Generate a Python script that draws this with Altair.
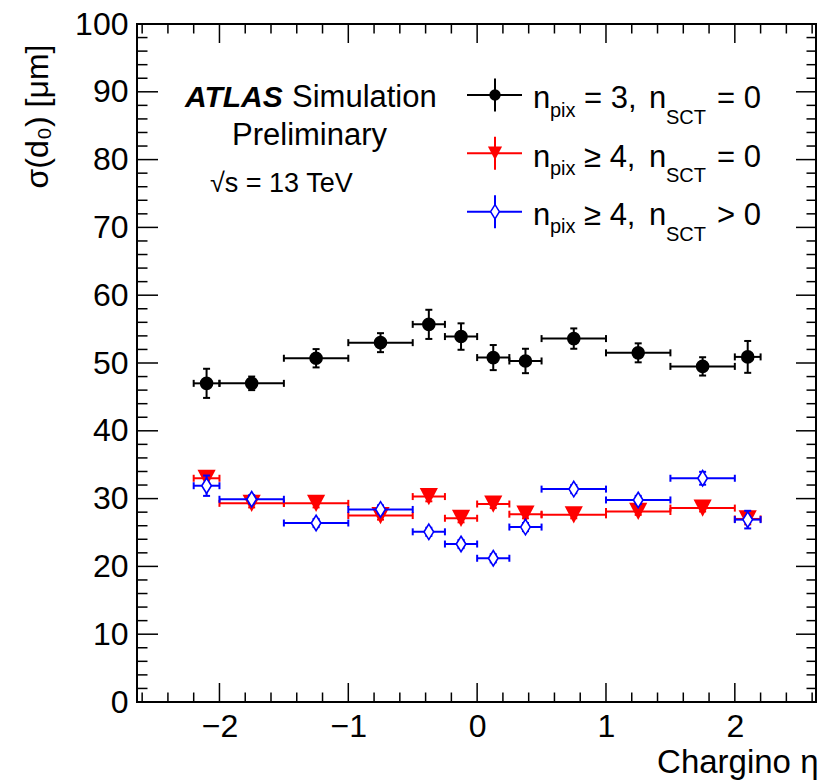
import altair as alt
import pandas as pd

# ---------------- data ----------------
bin_lo = [-2.2, -2.0, -1.5, -1.0, -0.5, -0.25, 0.0, 0.25, 0.5, 1.0, 1.5, 2.0]
bin_hi = [-2.0, -1.5, -1.0, -0.5, -0.25, 0.0, 0.25, 0.5, 1.0, 1.5, 2.0, 2.2]
eta = [-2.1, -1.75, -1.25, -0.75, -0.375, -0.125, 0.125, 0.375, 0.75, 1.25, 1.75, 2.1]

black_val = [47.0, 47.0, 50.7, 53.0, 55.7, 53.9, 50.8, 50.3, 53.6, 51.5, 49.5, 50.9]
black_err = [2.15, 1.0, 1.35, 1.4, 2.15, 1.95, 1.85, 1.8, 1.5, 1.4, 1.35, 2.35]
red_val = [33.0, 29.3, 29.3, 27.5, 30.3, 27.1, 29.2, 27.7, 27.6, 28.1, 28.6, 27.0]
red_err = [0.7, 0.6, 0.6, 0.6, 0.7, 0.6, 0.6, 0.6, 0.5, 0.5, 0.5, 0.8]
blue_val = [31.9, 29.9, 26.4, 28.4, 25.1, 23.3, 21.2, 25.8, 31.4, 29.8, 33.0, 26.9]
blue_err = [1.5, 0.6, 0.6, 0.6, 0.6, 0.6, 0.6, 0.6, 0.6, 0.6, 0.95, 1.3]

x_major = [-2, -1, 0, 1, 2]
x_minor = [-2.6, -2.4, -2.2, -1.8, -1.6, -1.4, -1.2, -0.8, -0.6, -0.4, -0.2,
           0.2, 0.4, 0.6, 0.8, 1.2, 1.4, 1.6, 1.8, 2.2, 2.4, 2.6]
y_major = [0, 10, 20, 30, 40, 50, 60, 70, 80, 90, 100]
y_minor = [2, 4, 6, 8, 12, 14, 16, 18, 22, 24, 26, 28, 32, 34, 36, 38,
           42, 44, 46, 48, 52, 54, 56, 58, 62, 64, 66, 68, 72, 74, 76, 78,
           82, 84, 86, 88, 92, 94, 96, 98]

x_domain = [-2.64, 2.63]
y_domain = [0, 100]

FONT = "Liberation Sans"
W, H = 679, 678
L0, T0 = 137, 24  # plot origin in the page

xs = alt.Scale(domain=x_domain, nice=False, zero=False)
ys = alt.Scale(domain=y_domain, nice=False, zero=False)

xaxis = alt.Axis(values=x_major, title="Chargino η", grid=False, domain=False,
                 ticks=False, tickSize=0, labelPadding=9, labelFontSize=32,
                 labelFont=FONT, labelColor="black", labelFlush=False,
                 labelOverlap=False, titleFont=FONT, titleFontSize=33,
                 titleFontWeight="normal", titleColor="black", titleX=681,
                 titleY=70, titleAlign="right", titleBaseline="alphabetic")
yaxis = alt.Axis(values=y_major, title="σ(d₀) [μm]", grid=False, domain=False,
                 ticks=False, tickSize=0, labelPadding=9, labelFontSize=32,
                 labelFont=FONT, labelColor="black", labelFlush=False,
                 labelOverlap=False, titleFont=FONT, titleFontSize=32,
                 titleFontWeight="normal", titleColor="black", titleAngle=270,
                 titleX=-90, titleY=20, titleAlign="right",
                 titleBaseline="alphabetic")


def X(f):
    return alt.X(f, type="quantitative", scale=xs, axis=xaxis)


def Y(f):
    return alt.Y(f, type="quantitative", scale=ys, axis=yaxis)


layers = []

# ---------------- tick marks (inward, on all four sides) ----------------
def xticks(vals, length):
    d = alt.Chart(pd.DataFrame({"t": vals}))
    bot = d.mark_rule(color="black", strokeWidth=1.5).encode(
        x=X("t"), y=alt.value(H), y2=alt.value(H - length))
    top = d.mark_rule(color="black", strokeWidth=1.5).encode(
        x=X("t"), y=alt.value(0), y2=alt.value(length))
    return [bot, top]


def yticks(vals, llen, rlen):
    d = alt.Chart(pd.DataFrame({"t": vals}))
    left = d.mark_rule(color="black", strokeWidth=1.5).encode(
        y=Y("t"), x=alt.value(0), x2=alt.value(llen))
    right = d.mark_rule(color="black", strokeWidth=1.5).encode(
        y=Y("t"), x=alt.value(W), x2=alt.value(W - rlen))
    return [left, right]


layers += xticks(x_major, 19) + xticks(x_minor, 9.5)
layers += yticks(y_major, 21, 20) + yticks(y_minor, 10.5, 9.5)

# ---------------- series ----------------
TRI_DOWN = "M-1,-0.95L1,-0.95L0,0.95Z"
DIAMOND = "M0,-1L0.62,0L0,1L-0.62,0Z"


def series(vals, errs, color, point_mark):
    df = pd.DataFrame({"eta": eta, "lo": bin_lo, "hi": bin_hi,
                       "val": vals, "err": errs})
    base = alt.Chart(df).transform_calculate(
        ylo="datum.val - datum.err", yhi="datum.val + datum.err")
    out = [
        base.mark_rule(color=color, strokeWidth=2).encode(
            x=X("lo"), x2="hi", y=Y("val")),
        base.mark_rule(color=color, strokeWidth=2).encode(
            x=X("eta"), y=Y("ylo:Q"), y2="yhi:Q"),
        base.mark_tick(color=color, orient="vertical", size=7, thickness=2,
                       opacity=1).encode(x=X("lo"), y=Y("val")),
        base.mark_tick(color=color, orient="vertical", size=7, thickness=2,
                       opacity=1).encode(x=X("hi"), y=Y("val")),
        base.mark_tick(color=color, orient="horizontal", size=7, thickness=2,
                       opacity=1).encode(x=X("eta"), y=Y("ylo:Q")),
        base.mark_tick(color=color, orient="horizontal", size=7, thickness=2,
                       opacity=1).encode(x=X("eta"), y=Y("yhi:Q")),
        point_mark(base).encode(x=X("eta"), y=Y("val")),
    ]
    return out


layers += series(black_val, black_err, "#000000",
                 lambda b: b.mark_point(shape="circle", filled=True,
                                        color="#000000", size=185, opacity=1))
layers += series(red_val, red_err, "#ff0000",
                 lambda b: b.mark_point(shape=TRI_DOWN, filled=True,
                                        color="#ff0000", size=330, opacity=1))
layers += series(blue_val, blue_err, "#0000ff",
                 lambda b: b.mark_point(shape=DIAMOND, filled=True,
                                        fill="white", stroke="#0000ff",
                                        strokeWidth=1.6, size=240, opacity=1))

# ---------------- text annotations ----------------
one = pd.DataFrame({"k": [0]})


def txt(s, x, y, size, weight="normal", style="normal"):
    return alt.Chart(pd.DataFrame({"s": [s]})).mark_text(
        font=FONT, fontSize=size, fontWeight=weight, fontStyle=style,
        align="left", baseline="alphabetic", color="black").encode(
        text="s:N", x=alt.value(x - L0), y=alt.value(y - T0))


layers += [
    txt("ATLAS", 185, 107, 30, weight="bold", style="italic"),
    txt("Simulation", 292, 107, 31),
    txt("Preliminary", 232, 145, 31),
    txt("√s = 13 TeV", 210, 192, 27),
]

# ---------------- legend ----------------
legend_names = [("= 3,", "= 0"), ("≥ 4,", "= 0"), ("≥ 4,", "> 0")]
legend_colors = ["#000000", "#ff0000", "#0000ff"]
row_center = [95, 153.3, 211.7]
row_base = [108.3, 166.7, 225]

legend_markers = [
    lambda c: c.mark_point(shape="circle", filled=True, color="#000000",
                           size=130, opacity=1),
    lambda c: c.mark_point(shape=TRI_DOWN, filled=True, color="#ff0000",
                           size=200, opacity=1),
    lambda c: c.mark_point(shape=DIAMOND, filled=True, fill="white",
                           stroke="#0000ff", strokeWidth=1.5, size=200,
                           opacity=1),
]

for i in range(3):
    c = alt.Chart(one)
    col = legend_colors[i]
    yc = row_center[i] - T0
    layers.append(c.mark_rule(color=col, strokeWidth=2).encode(
        x=alt.value(467 - L0), x2=alt.value(522 - L0), y=alt.value(yc)))
    layers.append(c.mark_rule(color=col, strokeWidth=2).encode(
        x=alt.value(495 - L0), y=alt.value(yc - 16.5), y2=alt.value(yc + 16.5)))
    layers.append(legend_markers[i](c).encode(
        x=alt.value(495 - L0), y=alt.value(yc)))
    b = row_base[i]
    op, tail = legend_names[i]
    layers += [
        txt("n", 533, b, 31),
        txt("pix", 550, b + 8.4, 20),
        txt(op, 584, b, 31),
        txt("n", 649, b, 31),
        txt("SCT", 666, b + 15.5, 20),
        txt(tail, 717, b, 31),
    ]

chart = alt.layer(*layers).properties(
    width=W, height=H,
    autosize=alt.AutoSizeParams(type="none"),
    padding={"left": L0, "top": T0, "right": 821 - L0 - W, "bottom": 783 - T0 - H},
    background="white",
).configure_view(stroke="black", strokeWidth=2)

chart.save("out.html", embed_options={"renderer": "svg", "actions": False})
